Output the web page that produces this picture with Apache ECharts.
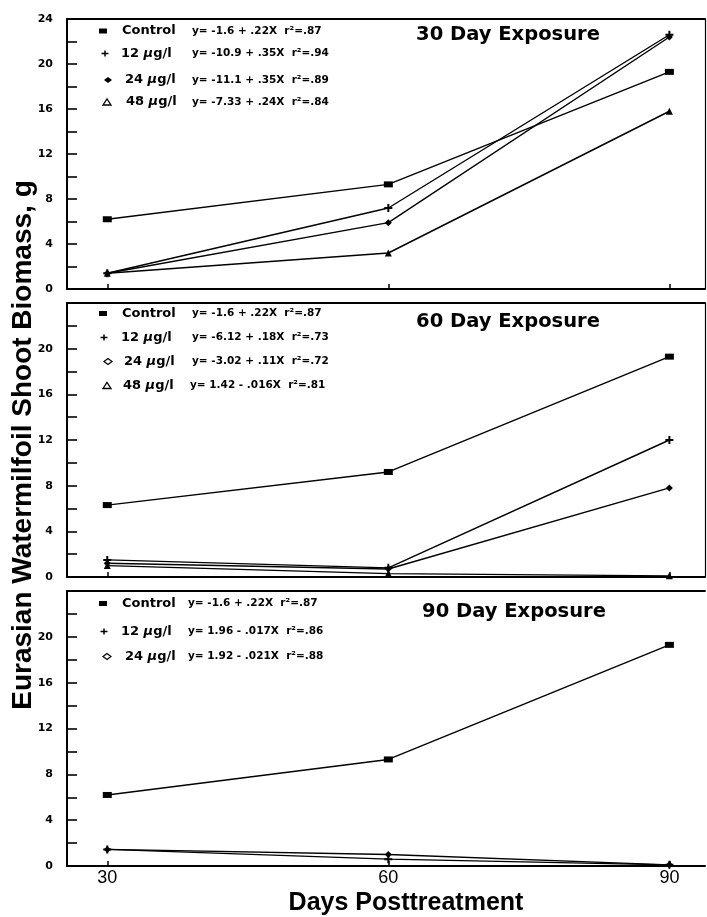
<!DOCTYPE html>
<html><head><meta charset="utf-8">
<script src="https://cdn.jsdelivr.net/npm/echarts@6/dist/echarts.min.js"></script>
<style>html,body{margin:0;padding:0;background:#fff}#c{width:707px;height:917px}</style>
</head><body><div id="c"></div>
<script>
// ---------------- data ----------------
const days = [30, 60, 90];
const xTicks = [30, 60, 90];
const seriesNames = ['Control', '12 µg/l', '24 µg/l', '48 µg/l'];
const panelTitles = ['30 Day Exposure', '60 Day Exposure', '90 Day Exposure'];
// 30 Day Exposure
const d30Control = [6.2, 9.3, 19.3];
const d30Ug12 = [1.4, 7.2, 22.6];
const d30Ug24 = [1.4, 5.9, 22.4];
const d30Ug48 = [1.4, 3.2, 15.8];
// 60 Day Exposure
const d60Control = [6.3, 9.2, 19.3];
const d60Ug12 = [1.5, 0.8, 12.0];
const d60Ug24 = [1.2, 0.7, 7.8];
const d60Ug48 = [1.0, 0.3, 0.1];
// 90 Day Exposure
const d90Control = [6.2, 9.3, 19.3];
const d90Ug12 = [1.45, 0.6, 0.1];
const d90Ug24 = [1.45, 1.0, 0.1];
// regression equations
const eq30 = ['y= -1.6 + .22X  r²=.87', 'y= -10.9 + .35X  r²=.94', 'y= -11.1 + .35X  r²=.89', 'y= -7.33 + .24X  r²=.84'];
const eq60 = ['y= -1.6 + .22X  r²=.87', 'y= -6.12 + .18X  r²=.73', 'y= -3.02 + .11X  r²=.72', 'y= 1.42 - .016X  r²=.81'];
const eq90 = ['y= -1.6 + .22X  r²=.87', 'y= 1.96 - .017X  r²=.86', 'y= 1.92 - .021X  r²=.88'];

// ---------------- layout ----------------
const chart = echarts.init(document.getElementById('c'), null, {renderer: 'canvas'});
const grids = [
  {left: 67, right: 2, top: 19, height: 270},
  {left: 67, right: 2, top: 303, height: 274},
  {left: 67, right: 2, top: 591, height: 275}
];
const XMIN = 25.7, XMAX = 93.8;
const PLUS = 'path://M3,0H5V3H8V5H5V8H3V5H0V3H3Z';
const symbols = [['rect', [9, 6]], [PLUS, 8], ['diamond', 7], ['triangle', 7]];

const xAxes = [], yAxes = [], series = [];
grids.forEach((g, gi) => {
  xAxes.push({
    type: 'value', gridIndex: gi, min: XMIN, max: XMAX,
    splitLine: {show: false},
    axisLine: {show: true, onZero: false, lineStyle: {color: '#000', width: 2}},
    axisTick: {show: true, inside: true, length: 5, customValues: xTicks, lineStyle: {color: '#000', width: 1.5}},
    axisLabel: {show: gi === 2, customValues: xTicks, color: '#000', fontFamily: 'Liberation Sans', fontSize: 18, margin: 3}
  });
  xAxes.push({
    type: 'value', gridIndex: gi, position: 'top', min: XMIN, max: XMAX,
    splitLine: {show: false}, axisTick: {show: false}, axisLabel: {show: false},
    axisLine: {show: true, onZero: false, lineStyle: {color: '#000', width: 1.8}}
  });
  yAxes.push({
    type: 'value', gridIndex: gi, min: 0, max: 24, interval: 4,
    splitLine: {show: false},
    axisLine: {show: true, lineStyle: {color: '#000', width: 2}},
    axisTick: {show: true, inside: true, length: 10, lineStyle: {color: '#000', width: 1.6}},
    minorTick: {show: true, splitNumber: 2, length: 10, lineStyle: {color: '#000', width: 1.6}},
    axisLabel: {color: '#000', fontFamily: 'DejaVu Sans', fontWeight: 'bold', fontSize: 11, margin: 14,
      formatter: v => (gi > 0 && v === 24) ? '' : String(v)}
  });
  yAxes.push({
    type: 'value', gridIndex: gi, position: 'right', min: 0, max: 24,
    splitLine: {show: false}, axisTick: {show: false}, axisLabel: {show: false},
    axisLine: {show: gi < 2, lineStyle: {color: '#000', width: 1.2}}
  });
});

const panelData = [
  [d30Control, d30Ug12, d30Ug24, d30Ug48],
  [d60Control, d60Ug12, d60Ug24, d60Ug48],
  [d90Control, d90Ug12, d90Ug24]
];
panelData.forEach((list, gi) => {
  list.forEach((vals, si) => {
    series.push({
      type: 'line', name: seriesNames[si],
      xAxisIndex: gi * 2, yAxisIndex: gi * 2,
      data: days.map((d, i) => [d, vals[i]]),
      symbol: symbols[si][0], symbolSize: symbols[si][1],
      showSymbol: true, silent: true, animation: false,
      lineStyle: {color: '#000', width: 1.4},
      itemStyle: {color: '#000'}
    });
  });
});

// legend blocks (drawn as graphic text + marker shapes)
const legendRows = [
  {rows: [31, 53.5, 80, 102], mx: [103, 105, 108, 107], nx: [122, 121, 125, 126], ex: [192, 192, 192, 192], eq: eq30, hollowDiamond: false},
  {rows: [313.5, 337.5, 361.5, 385.5], mx: [103, 104, 108, 107], nx: [122, 121, 124, 123], ex: [192, 192, 192, 190], eq: eq60, hollowDiamond: true},
  {rows: [603.5, 631.5, 656.5], mx: [103, 104, 107], nx: [122, 121, 125], ex: [188, 188, 188], eq: eq90, hollowDiamond: true}
];
const graphics = [];
const nameRich = {
  a: {fontFamily: 'DejaVu Sans', fontWeight: 'bold', fontSize: 13, fill: '#000'},
  b: {fontFamily: 'DejaVu Sans', fontWeight: 'bold', fontStyle: 'italic', fontSize: 13, fill: '#000'}
};
function marker(si, x, y, hollow) {
  if (si === 0) return {type: 'rect', shape: {x: x - 4, y: y - 2.5, width: 8, height: 5}, style: {fill: '#000'}};
  if (si === 1) return {type: 'group', children: [
    {type: 'line', shape: {x1: x - 3.5, y1: y, x2: x + 3.5, y2: y}, style: {stroke: '#000', lineWidth: 1.5}},
    {type: 'line', shape: {x1: x, y1: y - 3, x2: x, y2: y + 3}, style: {stroke: '#000', lineWidth: 1.5}}
  ]};
  if (si === 2) return {type: 'polygon', shape: {points: [[x - 4, y], [x, y - 3], [x + 4, y], [x, y + 3]]},
    style: hollow ? {fill: '#fff', stroke: '#000', lineWidth: 1.2} : {fill: '#000'}};
  return {type: 'polygon', shape: {points: [[x - 4, y + 3], [x, y - 3], [x + 4, y + 3]]}, style: {fill: '#fff', stroke: '#000', lineWidth: 1.3}};
}
legendRows.forEach((L, p) => {
  L.rows.forEach((y, si) => {
    graphics.push(marker(si, L.mx[si], y, L.hollowDiamond));
    const nm = seriesNames[si];
    const txt = nm.indexOf('µ') >= 0 ? '{a|' + nm.split('µ')[0] + '}{b|µ}{a|' + nm.split('µ')[1] + '}' : '{a|' + nm + '}';
    graphics.push({type: 'text', x: L.nx[si], y: y, style: {text: txt, rich: nameRich, align: 'left', verticalAlign: 'middle'}});
    graphics.push({type: 'text', x: L.ex[si], y: y, style: {text: L.eq[si], fontFamily: 'DejaVu Sans', fontWeight: 'bold', fontSize: 10.5, fill: '#000', align: 'left', verticalAlign: 'middle'}});
  });
});
// panel titles
[[508, 35], [508, 322], [514, 612]].forEach((pos, i) => {
  graphics.push({type: 'text', x: pos[0], y: pos[1], style: {text: panelTitles[i], fontFamily: 'DejaVu Sans', fontWeight: 'bold', fontSize: 19.5, fill: '#000', align: 'center', verticalAlign: 'middle'}});
});
// axis titles
graphics.push({type: 'text', x: 23, y: 445, rotation: Math.PI / 2,
  style: {text: 'Eurasian Watermilfoil Shoot Biomass, g', fontFamily: 'Liberation Sans', fontWeight: 'bold', fontSize: 28, fill: '#000', align: 'center', verticalAlign: 'middle'}});
graphics.push({type: 'text', x: 406, y: 903,
  style: {text: 'Days Posttreatment', fontFamily: 'Liberation Sans', fontWeight: 'bold', fontSize: 25, fill: '#000', align: 'center', verticalAlign: 'middle'}});

chart.setOption({
  backgroundColor: '#fff',
  animation: false,
  grid: grids,
  xAxis: xAxes,
  yAxis: yAxes,
  series: series,
  graphic: graphics
});
</script></body></html>
